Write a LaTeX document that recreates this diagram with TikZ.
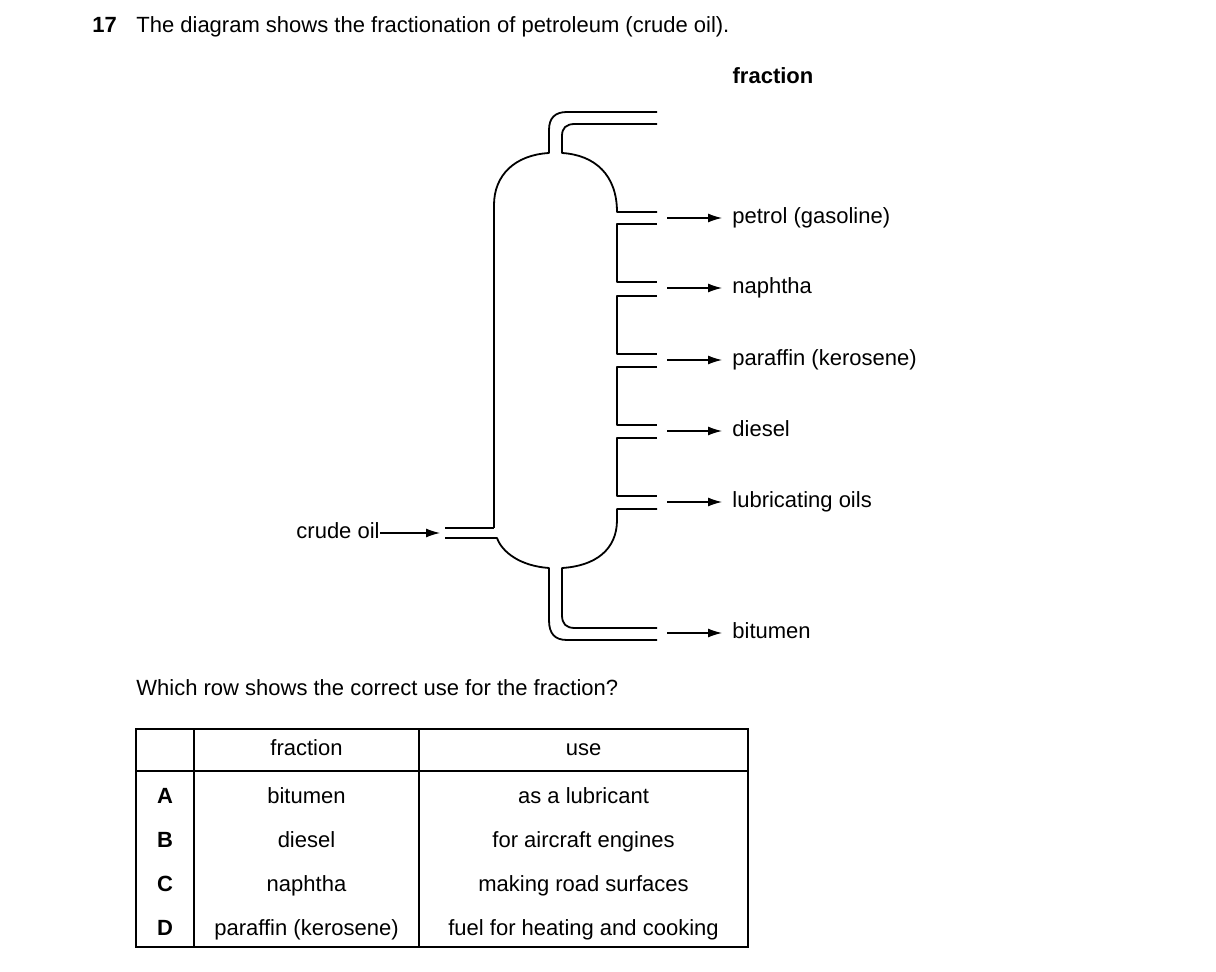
\documentclass[tikz,border=0pt]{standalone}
\usepackage{fontspec}
\setmainfont{Liberation Sans}
\usetikzlibrary{arrows.meta}
\begin{document}
\begin{tikzpicture}[x=0.5pt,y=-0.5pt,
  wall/.style={line width=0.9pt,line join=round},
  arr/.style={line width=0.6pt,-{Latex[length=7pt,width=4.5pt]},shorten >=5pt},
  fnt/.style={font=\fontsize{11}{13}\selectfont,text height=0.75em,text depth=0.22em},
  lbl/.style={anchor=west,fnt,inner sep=0pt},
  cell/.style={fnt,inner sep=0pt},
  bf/.style={font=\bfseries\fontsize{11}{13}\selectfont},
  tl/.style={line width=0.6pt}]
\useasboundingbox (0,0) rectangle (1216,972);
\node[lbl,bf] (num) at (92,27) {17};
\node[lbl] (title) at (136,27) {The diagram shows the fractionation of petroleum (crude oil).};
\node[cell,bf] (fh) at (773,78) {fraction};
% column
\draw[wall] (494,528) -- (494,205) .. controls (494,175) and (515,155) .. (549,153) -- (549,130) .. controls (549,118) and (555,112) .. (567,112) -- (657,112);
\draw[wall] (657,124) -- (575,124) .. controls (566,124) and (562,128) .. (562,136) -- (562,153) .. controls (595,155) and (617,175) .. (617,212) -- (657,212);
\foreach \y in {288,360,431,502}{
  \draw[wall] (657,\y-64) -- (617,\y-64) -- (617,\y-6) -- (657,\y-6);}
\draw[wall] (657,509) -- (617,509) -- (617,520) .. controls (617,550) and (595,566) .. (562,568) -- (562,615) .. controls (562,624) and (566,628) .. (575,628) -- (657,628);
\draw[wall] (657,640) -- (567,640) .. controls (555,640) and (549,634) .. (549,620) -- (549,568) .. controls (520,566) and (502,552) .. (497,538) -- (445,538);
\draw[wall] (445,528) -- (494,528);
% outputs
\foreach \y/\n/\t in {218/p/petrol (gasoline),288/n/naphtha,360/k/paraffin (kerosene),431/d/diesel,502/l/lubricating oils,633/b/bitumen}{
  \node[lbl] (\n) at (732,\y) {\t};
  \coordinate (s\n) at (667,\y);
  \draw[arr] (s\n) -- (\n.west);}
\node[lbl,anchor=east] (crude) at (380,533) {crude oil};
\coordinate (ce) at (440,533);
\draw[arr,shorten >=0pt] (crude.east) -- (ce);
\node[lbl] (q) at (136,690) {Which row shows the correct use for the fraction?};
% table
\draw[tl] (136,729) rectangle (748,947);
\draw[tl] (136,771) -- (748,771);
\draw[tl] (194,729) -- (194,947);
\draw[tl] (419,729) -- (419,947);
\node[cell] (h1) at (306.5,750) {fraction};
\node[cell] (h2) at (583.5,750) {use};
\foreach \y/\l/\f/\u in {798/A/bitumen/as a lubricant,842/B/diesel/for aircraft engines,886/C/naphtha/making road surfaces,930/D/paraffin (kerosene)/fuel for heating and cooking}{
  \node[cell,bf] (r\l) at (165,\y) {\l};
  \node[cell] (f\l) at (306.5,\y) {\f};
  \node[cell] (u\l) at (583.5,\y) {\u};}
\end{tikzpicture}
\end{document}
